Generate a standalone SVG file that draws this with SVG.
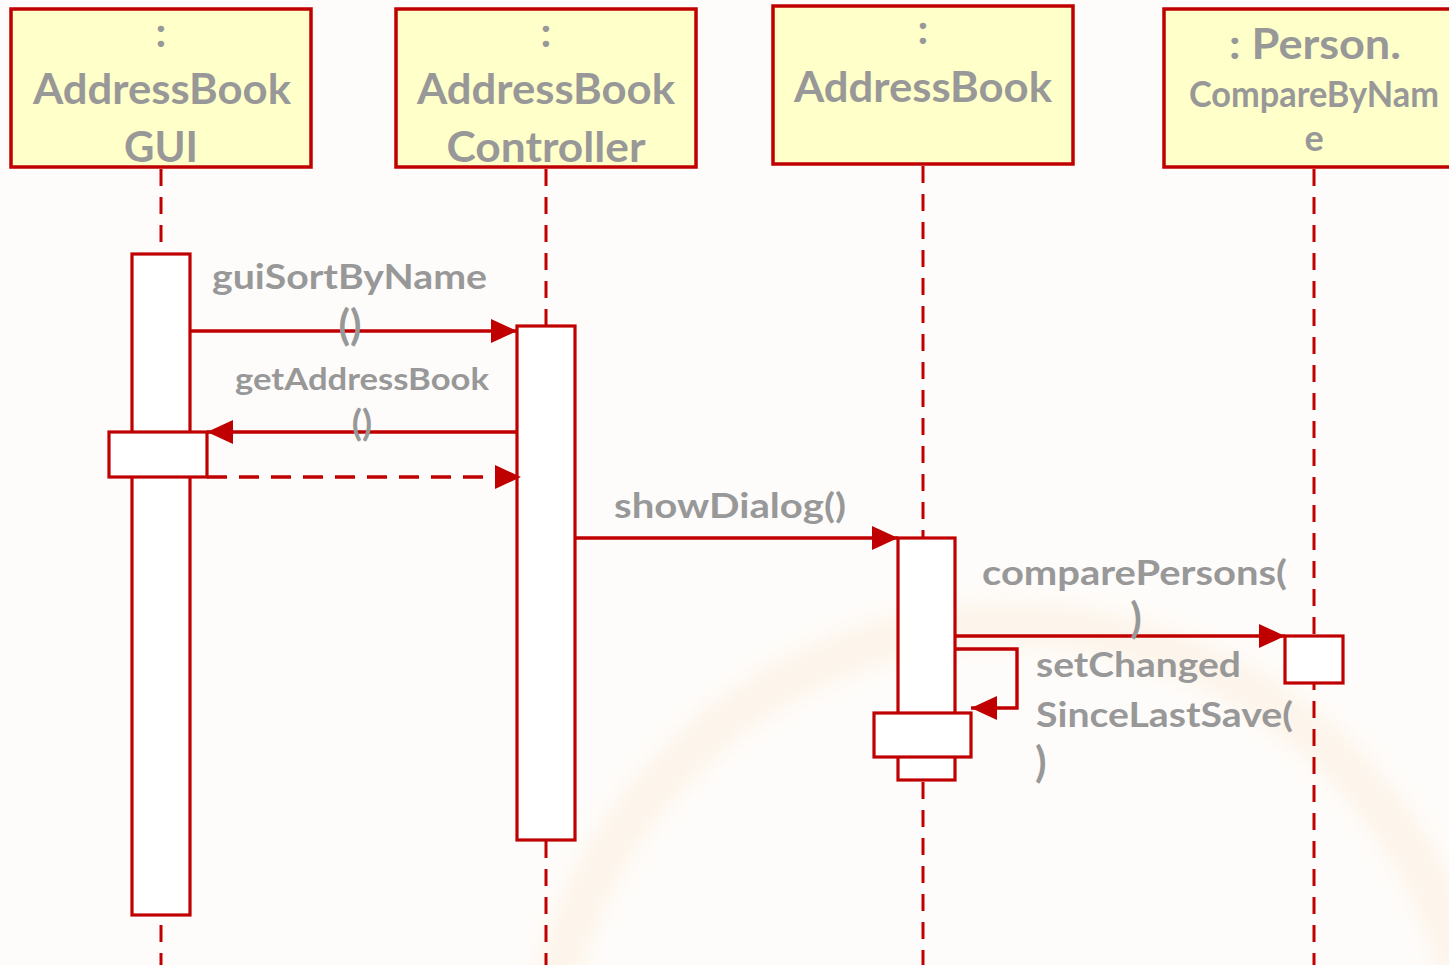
<svg xmlns="http://www.w3.org/2000/svg" width="1449" height="965" viewBox="0 0 1449 965">
  <style>
    .head { fill: #FFFFC9; stroke: #C00000; stroke-width: 3.5; }
    .bar { fill: #FFFFFF; stroke: #C00000; stroke-width: 3.2; }
    .life { stroke: #C00000; stroke-width: 3; stroke-dasharray: 17 11; fill: none; }
    .msg { stroke: #C00000; stroke-width: 3.4; fill: none; }
    .ret { stroke: #C00000; stroke-width: 3.4; fill: none; stroke-dasharray: 20 12; }
    .t { font-family: Lato, "Open Sans", "Liberation Sans", sans-serif; font-weight: 700; fill: #989898; }
    .title { font-size: 42px; text-anchor: middle; }
    .lbl { font-size: 34px; }
    .paren { font-size: 42px; }
    .mid { text-anchor: middle; }
  </style>
  <defs>
    <marker id="arrow" viewBox="0 0 26 24" refX="26" refY="12" markerWidth="26" markerHeight="24" markerUnits="userSpaceOnUse" orient="auto">
      <path d="M0,0 L26,12 L0,24 Z" fill="#C00000"/>
    </marker>
    <filter id="soft" x="-20%" y="-20%" width="140%" height="140%">
      <feGaussianBlur stdDeviation="10"/>
    </filter>
  </defs>

  <!-- page background with soft decorative ring -->
  <rect x="0" y="0" width="1449" height="965" fill="#FEFCFA"/>
  <circle cx="1010" cy="1090" r="466" fill="none" stroke="#FCEFDF" stroke-width="46" opacity="0.55" filter="url(#soft)"/>

  <!-- lifelines -->
  <g id="lifelines">
    <line class="life" x1="161" y1="169" x2="161" y2="965"/>
    <line class="life" x1="546" y1="169" x2="546" y2="965"/>
    <line class="life" x1="923" y1="166" x2="923" y2="965"/>
    <line class="life" x1="1314" y1="169" x2="1314" y2="965"/>
  </g>

  <!-- participant: AddressBook GUI -->
  <g id="gui">
    <rect class="head" x="11" y="9" width="300" height="158"/>
    <text class="t title" x="161" y="47">:</text>
    <text class="t title" x="162" y="104" textLength="258" lengthAdjust="spacingAndGlyphs">AddressBook</text>
    <text class="t title" x="161" y="162" textLength="74" lengthAdjust="spacingAndGlyphs">GUI</text>
    <rect class="bar" x="132" y="254" width="58" height="661"/>
    <rect class="bar" x="109" y="432" width="98" height="45"/>
  </g>

  <!-- participant: AddressBook Controller -->
  <g id="controller">
    <rect class="head" x="396" y="9" width="300" height="158"/>
    <text class="t title" x="546" y="47">:</text>
    <text class="t title" x="546" y="104" textLength="258" lengthAdjust="spacingAndGlyphs">AddressBook</text>
    <text class="t title" x="546" y="162" textLength="199" lengthAdjust="spacingAndGlyphs">Controller</text>
    <rect class="bar" x="517" y="326" width="58" height="514"/>
  </g>

  <!-- participant: AddressBook -->
  <g id="addressbook">
    <rect class="head" x="773" y="6" width="300" height="158"/>
    <text class="t title" x="923" y="44">:</text>
    <text class="t title" x="923" y="102" textLength="258" lengthAdjust="spacingAndGlyphs">AddressBook</text>
    <rect class="bar" x="898" y="538" width="57" height="242"/>
    <rect class="bar" x="874" y="713" width="97" height="44"/>
  </g>

  <!-- participant: Person.CompareByName -->
  <g id="comparator">
    <rect class="head" x="1164" y="9" width="310" height="158"/>
    <text class="t title" x="1315" y="59" textLength="172" lengthAdjust="spacingAndGlyphs">: Person.</text>
    <text class="t" x="1314" y="107" font-size="36" text-anchor="middle" textLength="250" lengthAdjust="spacingAndGlyphs">CompareByNam</text>
    <text class="t" x="1314" y="151" font-size="36" text-anchor="middle">e</text>
    <rect class="bar" x="1285" y="636" width="58" height="47"/>
  </g>

  <!-- messages -->
  <g id="connectors">
    <line class="msg" x1="190" y1="331" x2="517" y2="331" marker-end="url(#arrow)"/>
    <line class="msg" x1="517" y1="432" x2="207" y2="432" marker-end="url(#arrow)"/>
    <line class="ret" x1="207" y1="477" x2="521" y2="477" marker-end="url(#arrow)"/>
    <line class="msg" x1="575" y1="538" x2="898" y2="538" marker-end="url(#arrow)"/>
    <line class="msg" x1="955" y1="636" x2="1285" y2="636" marker-end="url(#arrow)"/>
    <polyline class="msg" points="955,649 1017,649 1017,708 971,708" marker-end="url(#arrow)"/>
  </g>

  <!-- message labels -->
  <g id="labels">
    <text class="t lbl" x="212" y="289" textLength="275" lengthAdjust="spacingAndGlyphs">guiSortByName</text>
    <text class="t paren mid" x="350" y="340">()</text>
    <text class="t" x="235" y="390" font-size="31" textLength="254" lengthAdjust="spacingAndGlyphs">getAddressBook</text>
    <text class="t mid" x="362" y="436" font-size="37">()</text>
    <text class="t lbl" x="614" y="518" textLength="232" lengthAdjust="spacingAndGlyphs">showDialog()</text>
    <text class="t lbl" x="982" y="585" textLength="305" lengthAdjust="spacingAndGlyphs">comparePersons(</text>
    <text class="t paren mid" x="1136" y="633">)</text>
    <text class="t lbl" x="1036" y="677" textLength="205" lengthAdjust="spacingAndGlyphs">setChanged</text>
    <text class="t lbl" x="1036" y="727" textLength="257" lengthAdjust="spacingAndGlyphs">SinceLastSave(</text>
    <text class="t paren" x="1035" y="777">)</text>
  </g>
</svg>
